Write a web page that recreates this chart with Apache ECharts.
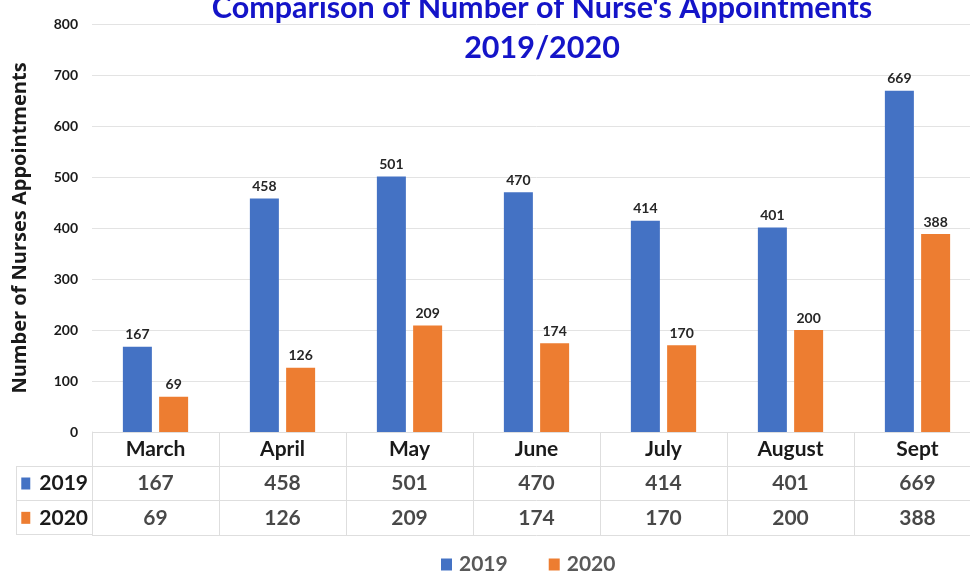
<!DOCTYPE html>
<html>
<head>
<meta charset="utf-8">
<script src="https://cdn.jsdelivr.net/npm/echarts@6/dist/echarts.min.js"></script>
<style>html,body{margin:0;padding:0;background:#fff;overflow:hidden}#c{width:981px;height:575px}</style>
</head>
<body>
<div id="c"></div>
<script>
const categories = ['March','April','May','June','July','August','Sept'];
const seriesNames = ['2019','2020'];
const values2019 = [167,458,501,470,414,401,669];
const values2020 = [69,126,209,174,170,200,388];
const yTicks = {min:0,max:800,interval:100};
const titleText = "Comparison of Number of Nurse's Appointments\n2019/2020";
const yAxisTitle = 'Number of Nurses Appointments';
const colors = ['#4472C4','#ED7D31'];
const FONT = 'Lato, "Open Sans", sans-serif';
const tableRows = ['', '2019', '2020'];
const lineColor = '#dedede';

const chart = echarts.init(document.getElementById('c'));
const tableSeries = [values2019, values2020].map((vals, k) => ({
  type: 'scatter', xAxisIndex: 1, yAxisIndex: 1, symbolSize: 0, silent: true,
  data: categories.map((c, i) => [c, seriesNames[k], vals[i]]),
  label: {show: true, position: 'inside', formatter: p => p.value[2],
    fontFamily: FONT, fontWeight: 'bold', fontSize: 21, color: '#1a1a1a'}
}));

chart.setOption({
  animation: false,
  color: colors,
  title: {
    text: titleText, left: 537, top: -17, textAlign: 'center',
    textStyle: {fontFamily: FONT, fontWeight: 'bold', fontSize: 30.5, lineHeight: 40, color: '#1414C8'}
  },
  legend: {
    data: seriesNames, top: 554, left: 441, padding: 0, itemWidth: 11, itemHeight: 12, itemGap: 41,
    icon: 'rect',
    textStyle: {fontFamily: FONT, fontWeight: 'bold', fontSize: 21, color: '#595959', padding: [0,0,0,2]}
  },
  grid: [
    {left: 92, top: 24, width: 889, height: 408},
    {left: 92, top: 432, width: 889, height: 103}
  ],
  xAxis: [
    {type: 'category', gridIndex: 0, data: categories,
     axisLine: {show: false}, axisTick: {show: false},
     axisLabel: {margin: 7, fontFamily: FONT, fontWeight: 'bold', fontSize: 21, color: '#1a1a1a'}},
    {type: 'category', gridIndex: 1, data: categories,
     axisLine: {show: false}, axisTick: {show: false}, axisLabel: {show: false},
     splitLine: {show: true, lineStyle: {color: lineColor, width: 1}}}
  ],
  yAxis: [
    {type: 'value', gridIndex: 0, min: yTicks.min, max: yTicks.max, interval: yTicks.interval,
     name: yAxisTitle, nameLocation: 'middle', nameGap: 62,
     nameTextStyle: {fontFamily: '"Open Sans", sans-serif', fontWeight: 'bold', fontSize: 20, color: '#1a1a1a'},
     axisLine: {show: false}, axisTick: {show: false},
     axisLabel: {margin: 14, fontFamily: FONT, fontWeight: 'bold', fontSize: 14, color: '#1a1a1a'},
     splitLine: {lineStyle: {color: '#e3e3e3', width: 1}}},
    {type: 'category', gridIndex: 1, data: tableRows, inverse: true,
     axisLine: {show: true, lineStyle: {color: lineColor}}, axisTick: {show: false},
     splitLine: {show: true, lineStyle: {color: lineColor, width: 1}},
     axisLabel: {margin: 4, align: 'right',
       formatter: v => v ? (v === '2019' ? '{a|}{t|' + v + '}' : '{b|}{t|' + v + '}') : '',
       rich: {
         a: {width: 9, height: 12, backgroundColor: colors[0]},
         b: {width: 9, height: 12, backgroundColor: colors[1]},
         t: {fontFamily: FONT, fontWeight: 'bold', fontSize: 21, color: '#1a1a1a', padding: [0,0,0,9]}
       }}}
  ],
  series: [
    {name: seriesNames[0], type: 'bar', data: values2019, barWidth: 29, barGap: '25%',
     label: {show: true, position: 'top', distance: 5, fontFamily: FONT, fontWeight: 'bold', fontSize: 14, color: '#262626'}},
    {name: seriesNames[1], type: 'bar', data: values2020, barWidth: 29, barGap: '25%',
     label: {show: true, position: 'top', distance: 5, fontFamily: FONT, fontWeight: 'bold', fontSize: 14, color: '#262626'}},
    ...tableSeries
  ],
  graphic: [
    {type: 'line', silent: true, shape: {x1: 16, y1: 466.5, x2: 92, y2: 466.5}, style: {stroke: lineColor}},
    {type: 'line', silent: true, shape: {x1: 16, y1: 500.5, x2: 92, y2: 500.5}, style: {stroke: lineColor}},
    {type: 'line', silent: true, shape: {x1: 16, y1: 534.5, x2: 92, y2: 534.5}, style: {stroke: lineColor}},
    {type: 'line', silent: true, shape: {x1: 16.5, y1: 466, x2: 16.5, y2: 535}, style: {stroke: lineColor}}
  ]
});
</script>
</body>
</html>
